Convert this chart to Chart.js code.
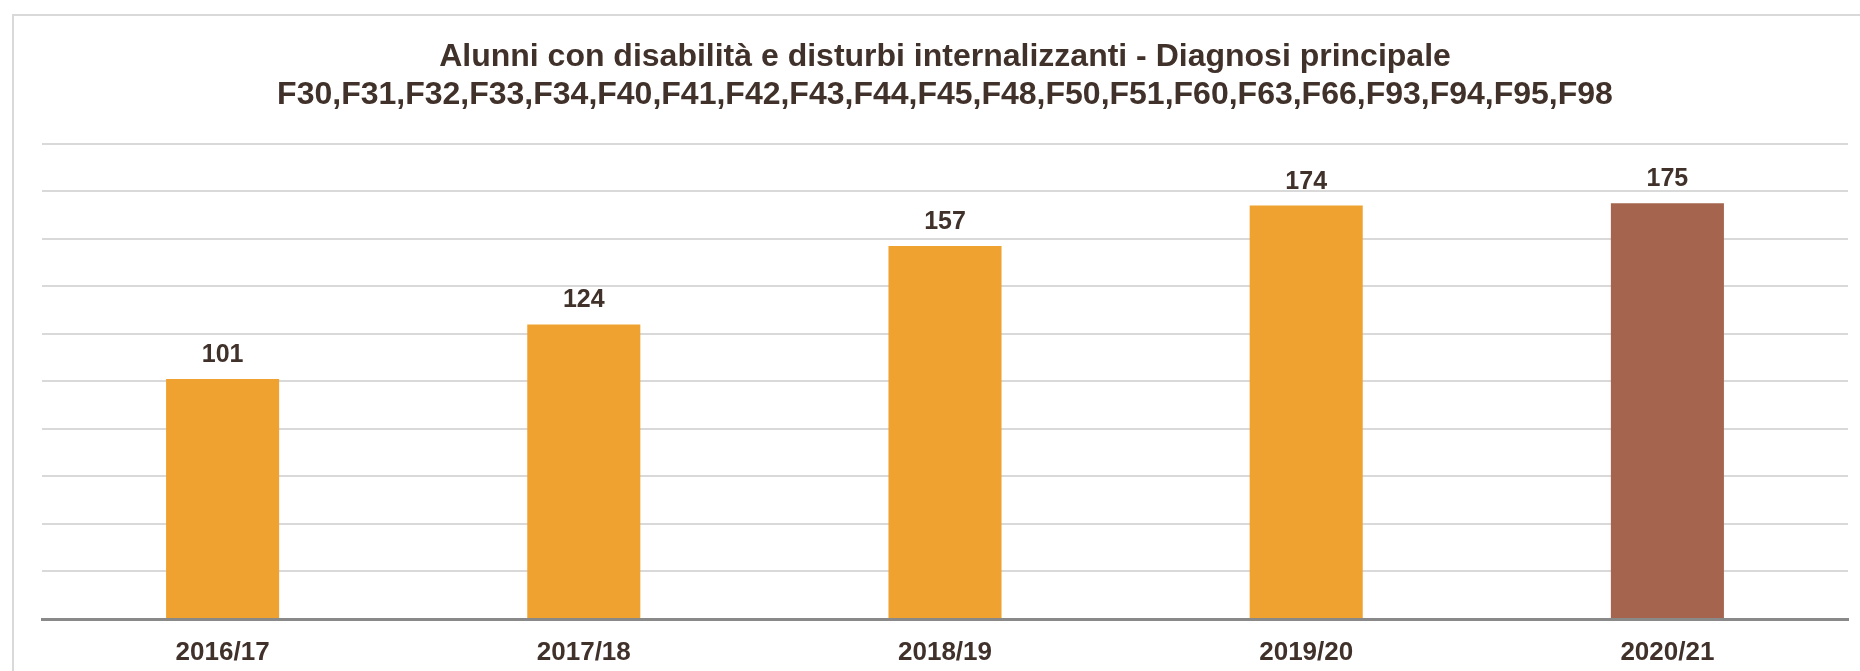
<!DOCTYPE html>
<html>
<head>
<meta charset="utf-8">
<script src="https://cdn.jsdelivr.net/npm/chart.js@4/dist/chart.umd.min.js"></script>
<style>
    html, body { margin: 0; padding: 0; background: #ffffff; overflow: hidden; }
    #wrap { position: relative; width: 1860px; height: 671px; }
    #frame {
        position: absolute; left: 12px; top: 14px; width: 1900px; height: 700px;
        border: 2px solid #d9d9d9; box-sizing: border-box;
    }
    #chart { position: absolute; left: 0; top: 0; }
</style>
</head>
<body>
<div id="wrap">
    <div id="frame"></div>
    <canvas id="chart" width="1860" height="671"></canvas>
</div>
<script>
        const years = ["2016/17", "2017/18", "2018/19", "2019/20", "2020/21"];
        const alunni = [101, 124, 157, 174, 175];
        const barColors = ["#efa22f", "#efa22f", "#efa22f", "#efa22f", "#a5644e"];
        const titleLines = [
            "Alunni con disabilità e disturbi internalizzanti - Diagnosi principale",
            "F30,F31,F32,F33,F34,F40,F41,F42,F43,F44,F45,F48,F50,F51,F60,F63,F66,F93,F94,F95,F98"
        ];

        const textColor = "#40312a";
        const fontFamily = "'Liberation Sans', Arial, sans-serif";

        // Value labels above the bars
        const valueLabels = {
            id: "valueLabels",
            afterDatasetsDraw(chart) {
                const ctx = chart.ctx;
                const meta = chart.getDatasetMeta(0);
                ctx.save();
                ctx.font = "bold 25px " + fontFamily;
                ctx.fillStyle = textColor;
                ctx.textAlign = "center";
                ctx.textBaseline = "alphabetic";
                meta.data.forEach((bar, i) => {
                    ctx.fillText(alunni[i], bar.x, bar.y - 17);
                });
                ctx.restore();
            }
        };

        new Chart(document.getElementById("chart").getContext("2d"), {
            type: "bar",
            data: {
                labels: years,
                datasets: [{
                    data: alunni,
                    backgroundColor: barColors,
                    barPercentage: 0.313,
                    categoryPercentage: 1
                }]
            },
            options: {
                responsive: false,
                animation: false,
                layout: {
                    padding: { left: 42, right: 12, top: 20, bottom: 8 }
                },
                plugins: {
                    legend: { display: false },
                    tooltip: { enabled: false },
                    title: {
                        display: true,
                        text: titleLines,
                        color: textColor,
                        font: { family: fontFamily, size: 32, weight: "bold", lineHeight: 1.2 },
                        padding: { top: 18, bottom: 29 }
                    }
                },
                scales: {
                    x: {
                        grid: { display: false, drawTicks: false },
                        border: { display: true, color: "#898989", width: 3 },
                        ticks: {
                            color: textColor,
                            padding: 18,
                            font: { family: fontFamily, size: 26, weight: "bold" }
                        },
                        afterFit(scale) {
                            scale.height = 44;
                        }
                    },
                    y: {
                        min: 0,
                        max: 200,
                        ticks: { stepSize: 20, display: false },
                        grid: { color: "#d9d9d9", lineWidth: 2, drawTicks: false },
                        border: { display: false }
                    }
                }
            },
            plugins: [valueLabels]
        });
</script>
</body>
</html>
